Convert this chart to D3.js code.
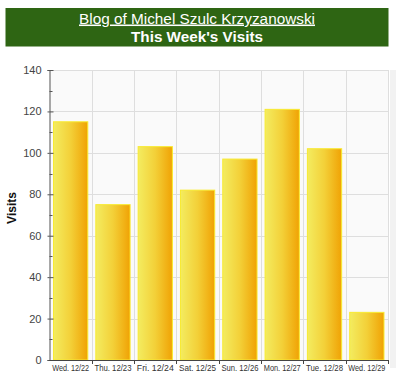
<!DOCTYPE html>
<html><head><meta charset="utf-8">
<script src="https://cdnjs.cloudflare.com/ajax/libs/d3/7.8.5/d3.min.js"></script>
<style>body{margin:0;background:#fff;}svg{display:block;}</style>
</head><body>
<script>
const categories = ["Wed. 12/22","Thu. 12/23","Fri. 12/24","Sat. 12/25","Sun. 12/26","Mon. 12/27","Tue. 12/28","Wed. 12/29"];
const visits = [115, 75, 103, 82, 97, 121, 102, 23];
const yTicks = [0, 20, 40, 60, 80, 100, 120, 140];
const titleLine1 = "Blog of Michel Szulc Krzyzanowski";
const titleLine2 = "This Week's Visits";
const yLabel = "Visits";

const W = 400, H = 380;
const svg = d3.select("body").append("svg").attr("width", W).attr("height", H);
const font = "'Liberation Sans', Arial, Helvetica, sans-serif";

// header
svg.append("rect").attr("x",5.5).attr("y",8).attr("width",383).attr("height",38.5).attr("fill","#2e6513");
svg.append("text").attr("x",197).attr("y",23.5).attr("text-anchor","middle")
  .attr("font-family",font).attr("font-size",15.5).attr("fill","#fff")
  .attr("textLength",236).attr("lengthAdjust","spacingAndGlyphs")
  .style("text-decoration","underline").text(titleLine1);
svg.append("text").attr("x",197).attr("y",42).attr("text-anchor","middle")
  .attr("font-family",font).attr("font-size",15).attr("font-weight","bold").attr("fill","#fff")
  .attr("textLength",132).attr("lengthAdjust","spacingAndGlyphs").text(titleLine2);

const m = {left:49.5, right:388, top:70, bottom:360};
const x = d3.scaleBand().domain(categories).range([m.left, m.right]).paddingInner(0.19).paddingOuter(0.095);
const xb = d3.scaleBand().domain(categories).range([m.left, m.right]);
const y = d3.scaleLinear().domain([0,140]).range([m.bottom, m.top]);

// plot background
svg.append("rect").attr("x",m.left).attr("y",m.top).attr("width",m.right-m.left).attr("height",m.bottom-m.top).attr("fill","#fafafa");
// right shadow
svg.append("rect").attr("x",m.right+2).attr("y",m.top).attr("width",6).attr("height",m.bottom-m.top+8).attr("fill","#f2f2f2");

// gridlines
svg.append("g").selectAll("line").data(yTicks.slice(1)).join("line")
  .attr("x1",m.left).attr("x2",m.right).attr("y1",d=>Math.round(y(d))+0.5).attr("y2",d=>Math.round(y(d))+0.5)
  .attr("stroke","#dedede");
svg.append("g").selectAll("line").data(categories.slice(1)).join("line")
  .attr("x1",d=>Math.round(xb(d))+0.5).attr("x2",d=>Math.round(xb(d))+0.5).attr("y1",m.top).attr("y2",m.bottom)
  .attr("stroke","#dedede");
svg.append("line").attr("x1",m.right+0.5).attr("x2",m.right+0.5).attr("y1",m.top).attr("y2",m.bottom).attr("stroke","#dedede");

// gradient
const defs = svg.append("defs");
const g = defs.append("linearGradient").attr("id","bar").attr("x1","0").attr("x2","1").attr("y1","0").attr("y2","0");
g.append("stop").attr("offset","0%").attr("stop-color","#f3ec60");
g.append("stop").attr("offset","50%").attr("stop-color","#f3d038");
g.append("stop").attr("offset","100%").attr("stop-color","#f0a204");

svg.append("g").selectAll("rect").data(visits).join("rect")
  .attr("x",(d,i)=>x(categories[i])).attr("width",x.bandwidth())
  .attr("y",d=>y(d)).attr("height",d=>m.bottom-y(d))
  .attr("fill","url(#bar)").attr("stroke","#f8ea30").attr("stroke-width",1);

// y axis
const yAxis = svg.append("g").attr("transform",`translate(${m.left},0)`)
  .call(d3.axisLeft(y).tickValues(yTicks).tickSize(2).tickPadding(6));
yAxis.select(".domain").attr("stroke","#555");
yAxis.selectAll(".tick line").attr("stroke","#555").clone().attr("x2",4);
yAxis.selectAll("text").attr("font-family",font).attr("font-size",11).attr("fill","#444");
svg.append("g").selectAll("line").data(d3.range(10,140,20)).join("line")
  .attr("x1",m.left).attr("x2",m.left+3).attr("y1",d=>Math.round(y(d))+0.5).attr("y2",d=>Math.round(y(d))+0.5)
  .attr("stroke","#555");

// x axis
const xAxisG = svg.append("g").attr("transform",`translate(0,${m.bottom})`)
  .call(d3.axisBottom(x).tickSize(0).tickPadding(5));
xAxisG.select(".domain").remove();
xAxisG.selectAll("text").attr("font-family",font).attr("font-size",8.6).attr("fill","#333")
  .attr("textLength",37).attr("lengthAdjust","spacingAndGlyphs");
svg.append("line").attr("x1",m.left).attr("x2",m.right+0.5).attr("y1",m.bottom+0.5).attr("y2",m.bottom+0.5).attr("stroke","#444");
svg.append("g").selectAll("line").data(categories.slice(1).concat([null])).join("line")
  .attr("x1",d=>d?Math.round(xb(d))+0.5:m.right+0.5).attr("x2",d=>d?Math.round(xb(d))+0.5:m.right+0.5)
  .attr("y1",m.bottom).attr("y2",m.bottom+4).attr("stroke","#444");

svg.append("text").attr("transform","translate(16,208) rotate(-90)").attr("text-anchor","middle")
  .attr("font-family",font).attr("font-size",12).attr("font-weight","bold").attr("fill","#111").text(yLabel);
</script>
</body></html>
